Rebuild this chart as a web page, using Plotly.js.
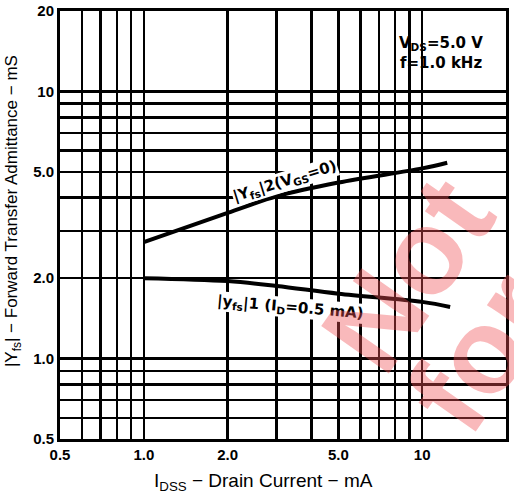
<!DOCTYPE html>
<html>
<head>
<meta charset="utf-8">
<script src="https://cdn.plot.ly/plotly-3.0.1.min.js"></script>
<style>html,body{margin:0;padding:0;background:#fff;}#chart{width:514px;height:496px;}</style>
</head>
<body>
<div id="chart"></div>
<script>
// Curve |yfs|2 (VGS=0)
const idss2 = [1.0, 2.0, 3.0, 5.0, 10, 12.3];
const yfs2  = [2.73, 3.51, 4.05, 4.56, 5.15, 5.41];
// Curve |yfs|1 (ID=0.5 mA)
const idss1 = [1.0, 2.0, 3.0, 5.0, 10, 12.6];
const yfs1  = [2.0, 1.95, 1.87, 1.75, 1.63, 1.56];

// Labeled ticks and unlabeled grid values
const xTickVals = [0.5, 1, 2, 5, 10, 20];
const xTickText = ['0.5', '1.0', '2.0', '5.0', '10', '20'];
const xGridVals = [0.6, 0.7, 0.8, 0.9, 3, 4, 6, 7, 8, 9];
const yTickVals = [0.5, 1, 2, 5, 10, 20];
const yTickText = ['0.5', '1.0', '2.0', '5.0', '10', '20'];
const yGridVals = [0.6, 0.7, 0.8, 0.9, 3, 4, 6, 7, 8, 9];

const FONT = 'Liberation Sans, Arial, sans-serif';
const WIDE = 'DejaVu Sans, Liberation Sans, sans-serif';

const traces = [
  {x: idss2, y: yfs2, mode: 'lines', line: {color: '#000', width: 4, shape: 'spline'}, showlegend: false, hoverinfo: 'skip'},
  {x: idss1, y: yfs1, mode: 'lines', line: {color: '#000', width: 4, shape: 'spline'}, showlegend: false, hoverinfo: 'skip'}
];

function axis(tv, tt, gv) {
  return {
    type: 'log',
    range: [Math.log10(0.5), Math.log10(20)],
    showgrid: true, gridcolor: '#000', gridwidth: 2.5,
    showline: true, linecolor: '#000', linewidth: 3, mirror: true,
    ticks: '', zeroline: false,
    tickfont: {family: FONT, size: 15, color: '#000', weight: 'bold'},
    tickmode: 'array', tickvals: tv, ticktext: tt,
    minor: {tickmode: 'array', tickvals: gv, showgrid: true, gridcolor: '#000', gridwidth: 2.5, ticks: ''}
  };
}

const WM = 'rgba(240,80,85,0.40)';

const layout = {
  width: 514, height: 496,
  margin: {l: 60, r: 8, t: 11, b: 57},
  paper_bgcolor: '#fff', plot_bgcolor: '#fff',
  xaxis: axis(xTickVals, xTickText, xGridVals),
  yaxis: axis(yTickVals, yTickText, yGridVals),
  shapes: [
    {type: 'rect', xref: 'paper', yref: 'paper', x0: 0.729, x1: 0.994, y0: 0.796, y1: 0.994,
     fillcolor: '#fff', line: {width: 0}, layer: 'between'}
  ],
  annotations: [
    // axis titles
    {xref: 'paper', yref: 'paper', x: 0.456, y: -0.100, xanchor: 'center', yanchor: 'middle', showarrow: false,
     text: 'I<sub>DSS</sub> − Drain Current − mA', font: {family: FONT, size: 19, color: '#000'}},
    {xref: 'paper', yref: 'paper', x: -0.105, y: 0.533, xanchor: 'center', yanchor: 'middle', showarrow: false, textangle: -90,
     text: '|Y<sub>fs</sub>| − Forward Transfer Admittance − mS', font: {family: FONT, size: 17, color: '#000'}},
    // conditions
    {xref: 'paper', yref: 'paper', x: 0.756, y: 0.925, xanchor: 'left', yanchor: 'middle', showarrow: false,
     text: 'V<sub>DS</sub>=5.0 V', font: {family: WIDE, size: 15, color: '#000', weight: 'bold'}},
    {xref: 'paper', yref: 'paper', x: 0.758, y: 0.878, xanchor: 'left', yanchor: 'middle', showarrow: false,
     text: 'f=1.0 kHz', font: {family: WIDE, size: 15, color: '#000', weight: 'bold'}},
    // curve labels
    {xref: 'paper', yref: 'paper', x: 0.504, y: 0.602, xanchor: 'center', yanchor: 'middle', showarrow: false, textangle: -17,
     text: '|Y<sub>fs</sub>|2(V<sub>GS</sub>=0)', bgcolor: '#fff', borderpad: 0,
     font: {family: WIDE, size: 15, color: '#000', weight: 'bold'}},
    {xref: 'paper', yref: 'paper', x: 0.516, y: 0.308, xanchor: 'center', yanchor: 'middle', showarrow: false, textangle: 5,
     text: '|y<sub>fs</sub>|1 (I<sub>D</sub>=0.5 mA)', bgcolor: '#fff', borderpad: 0,
     font: {family: WIDE, size: 15, color: '#000', weight: 'bold'}},
    // watermark
    {xref: 'paper', yref: 'paper', x: 0.778, y: 0.386, xanchor: 'center', yanchor: 'middle', showarrow: false, textangle: -55,
     text: 'Not', font: {family: FONT, size: 120, color: WM, weight: 'bold'}},
    {xref: 'paper', yref: 'paper', x: 0.944, y: 0.205, xanchor: 'center', yanchor: 'middle', showarrow: false, textangle: -55,
     text: 'for', font: {family: FONT, size: 120, color: WM, weight: 'bold'}}
  ]
};

Plotly.newPlot('chart', traces, layout, {staticPlot: true, displayModeBar: false});
</script>
</body>
</html>
